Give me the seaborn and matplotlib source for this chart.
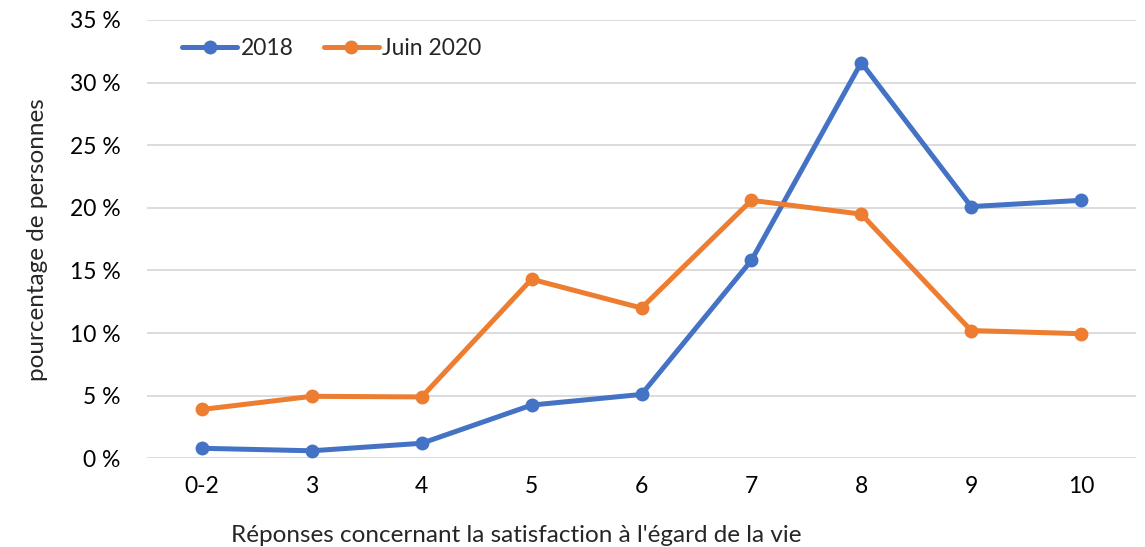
import pandas as pd
import matplotlib
matplotlib.use("Agg")
import matplotlib.pyplot as plt
import seaborn as sns
from matplotlib.ticker import FuncFormatter

categories = ["0-2", "3", "4", "5", "6", "7", "8", "9", "10"]
vals_2018 = [0.8, 0.6, 1.2, 4.25, 5.1, 15.8, 31.6, 20.1, 20.6]
vals_2020 = [3.9, 4.95, 4.9, 14.3, 12.0, 20.6, 19.5, 10.2, 9.95]
series_names = ["2018", "Juin 2020"]
colors = ["#4472C4", "#ED7D31"]

df = pd.DataFrame({
    "cat": categories * 2,
    "val": vals_2018 + vals_2020,
    "serie": [series_names[0]] * len(categories) + [series_names[1]] * len(categories),
})

sns.set_style("white")
plt.rcParams["font.family"] = ["Lato", "DejaVu Sans"]

fig = plt.figure(figsize=(11.45, 5.47), dpi=100)
ax = fig.add_axes([147 / 1145, 88.7 / 547, 989 / 1145, 438.3 / 547])

sns.lineplot(data=df, x="cat", y="val", hue="serie", palette=colors, sort=False,
             marker="o", markersize=10, markeredgewidth=0, linewidth=3.6, ax=ax)

ax.set_ylim(0, 35)
ax.set_xlim(-0.5, len(categories) - 0.5)
ax.set_yticks(range(0, 36, 5))
ax.yaxis.set_major_formatter(FuncFormatter(lambda v, p: f"{int(v)} %"))
ax.grid(axis="y", color="#d9d9d9", linewidth=1.3)
ax.set_axisbelow(True)
for s in ax.spines.values():
    s.set_visible(False)
ax.tick_params(axis="both", length=0, labelsize=16.5, colors="black")
ax.tick_params(axis="y", pad=19)
ax.tick_params(axis="x", pad=13)

ax.set_xlabel("")
ax.set_ylabel("pourcentage de personnes", fontsize=17.5, labelpad=16)
fig.text(516 / 1145, 1 - 535 / 547, "Réponses concernant la satisfaction à l'égard de la vie",
         ha="center", va="center", fontsize=17.5)

leg = ax.legend(loc="upper left", bbox_to_anchor=(0.015, 1.005), ncol=2, frameon=False,
                fontsize=16.5, handlelength=2.4, handletextpad=0.15, columnspacing=1.3)

fig.savefig("out.png", dpi=100)
